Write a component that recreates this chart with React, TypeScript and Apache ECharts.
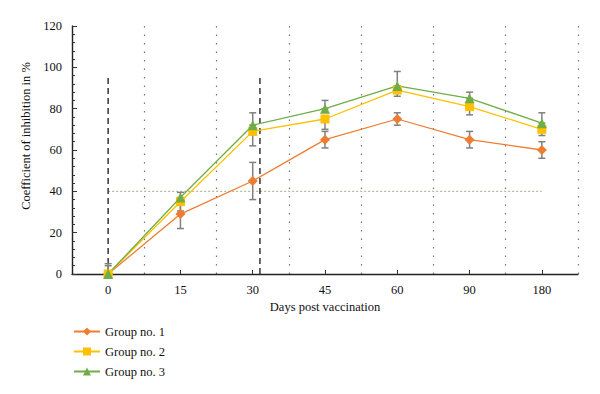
import React, { useEffect, useRef } from 'react';
import * as echarts from 'echarts';

const days = ['0', '15', '30', '45', '60', '90', '180'];
const group1 = [0, 29, 45, 65, 75, 65, 60];
const group1Err = [4, 7, 9, 4, 3, 4, 4];
const group2 = [0, 35, 69, 75, 89, 81, 70];
const group2ErrLow = [0, 4.5, 7, 5, 3, 4, 3];
const group3 = [0, 37, 72, 80, 91, 85, 73];
const group3ErrHigh = [5, 2.5, 6, 4, 7, 3, 5];
const yMax = 120;
const yInterval = 20;
const thresholdValue = 40;
const dashedLineDays = [0, 2.1];
const dashedLineTop = 95;

const ORANGE = '#ED7D31';
const YELLOW = '#FFC000';
const GREEN = '#70AD47';
const FONT = "'Liberation Serif', serif";

export default function App() {
  const ref = useRef<HTMLDivElement>(null);
  useEffect(() => {
    if (!ref.current) return;
    const chart = echarts.init(ref.current, null, { renderer: 'svg' });

    const errData: number[][] = [];
    days.forEach((_, i) => {
      if (group1Err[i] > 0) errData.push([i, Math.max(0, group1[i] - group1Err[i]), group1[i] + group1Err[i]]);
      if (group2ErrLow[i] > 0) errData.push([i, Math.max(0, group2[i] - group2ErrLow[i]), group2[i]]);
      if (group3ErrHigh[i] > 0) errData.push([i, group3[i], group3[i] + group3ErrHigh[i]]);
    });

    const lineSeries = (name: string, data: number[], color: string, symbol: string, size: number) => ({
      name,
      type: 'line',
      xAxisIndex: 0,
      yAxisIndex: 0,
      data,
      symbol,
      symbolSize: size,
      itemStyle: { color },
      lineStyle: { color, width: 1.3 },
      z: 3,
    });

    const option: any = {
      animation: false,
      textStyle: { fontFamily: FONT },
      grid: { left: 72, right: 22, top: 26, height: 248 },
      legend: {
        data: ['Group no. 1', 'Group no. 2', 'Group no. 3'],
        orient: 'vertical',
        left: 68,
        top: 320,
        itemWidth: 26,
        itemHeight: 10,
        itemGap: 7,
        textStyle: { fontFamily: FONT, fontSize: 12.5, color: '#111' },
      },
      xAxis: [
        {
          type: 'category',
          data: days,
          boundaryGap: true,
          position: 'bottom',
          name: 'Days post vaccination',
          nameLocation: 'middle',
          nameGap: 26,
          nameTextStyle: { fontFamily: FONT, fontSize: 12.5, color: '#111' },
          axisLine: { onZero: false, lineStyle: { color: '#222', width: 1.3 } },
          axisTick: { inside: true, length: 4, lineStyle: { color: '#333' } },
          axisLabel: { fontFamily: FONT, fontSize: 12.5, color: '#111', margin: 9 },
          splitLine: { show: true, lineStyle: { color: '#777', type: [1.5, 7], width: 1.2 } },
        },
        {
          type: 'category',
          data: days,
          boundaryGap: true,
          position: 'bottom',
          axisLine: { show: false, onZero: false },
          axisTick: { show: true, inside: true, alignWithLabel: true, length: 4, lineStyle: { color: '#333' } },
          axisLabel: { show: false },
          splitLine: { show: false },
        },
        {
          type: 'value',
          min: -0.5,
          max: days.length - 0.5,
          show: false,
          axisLine: { onZero: false },
        },
      ],
      yAxis: {
        type: 'value',
        position: 'left',
        min: 0,
        max: yMax,
        interval: yInterval,
        name: 'Coefficient of inhibition in %',
        nameLocation: 'middle',
        nameGap: 33,
        nameTextStyle: { fontFamily: FONT, fontSize: 12.5, color: '#111', padding: [0, 0, 0, 28] },
        axisLine: { show: true, onZero: false, lineStyle: { color: '#222', width: 1.4 } },
        axisTick: { show: true, inside: true, length: 5, lineStyle: { color: '#333' } },
        minorTick: { show: true, splitNumber: 5, length: 3, lineStyle: { color: '#333' } },
        axisLabel: { fontFamily: FONT, fontSize: 12.5, color: '#111', margin: 10 },
        splitLine: { show: false },
      },
      series: [
        {
          name: 'threshold',
          type: 'line',
          xAxisIndex: 2,
          yAxisIndex: 0,
          data: [[0, thresholdValue], [days.length - 1, thresholdValue]],
          symbol: 'none',
          lineStyle: { color: '#b8b8a2', width: 1.3, type: [2, 2] },
          silent: true,
          z: 1,
        },
        ...dashedLineDays.map((d, i) => ({
          name: 'dashed' + i,
          type: 'line',
          xAxisIndex: 2,
          yAxisIndex: 0,
          data: [[d, 0], [d, dashedLineTop]],
          symbol: 'none',
          lineStyle: { color: '#333', width: 1.5, type: [6, 4] },
          silent: true,
          z: 1,
        })),
        {
          name: 'errors',
          type: 'custom',
          xAxisIndex: 0,
          yAxisIndex: 0,
          data: errData,
          encode: { x: 0, y: [1, 2] },
          z: 2,
          silent: true,
          renderItem: (params: any, api: any) => {
            const x = api.value(0);
            const lo = api.coord([x, api.value(1)]);
            const hi = api.coord([x, api.value(2)]);
            const w = 3.5;
            const style = { stroke: '#808080', lineWidth: 1.5 };
            return {
              type: 'group',
              children: [
                { type: 'line', shape: { x1: lo[0], y1: lo[1], x2: hi[0], y2: hi[1] }, style },
                { type: 'line', shape: { x1: lo[0] - w, y1: lo[1], x2: lo[0] + w, y2: lo[1] }, style },
                { type: 'line', shape: { x1: hi[0] - w, y1: hi[1], x2: hi[0] + w, y2: hi[1] }, style },
              ],
            };
          },
        },
        lineSeries('Group no. 1', group1, ORANGE, 'diamond', 10),
        lineSeries('Group no. 2', group2, YELLOW, 'rect', 9),
        lineSeries('Group no. 3', group3, GREEN, 'triangle', 10),
      ],
    };
    chart.setOption(option);
    return () => chart.dispose();
  }, []);
  return <div ref={ref} style={{ width: 600, height: 394, position: 'absolute', left: 0, top: 0 }} />;
}
